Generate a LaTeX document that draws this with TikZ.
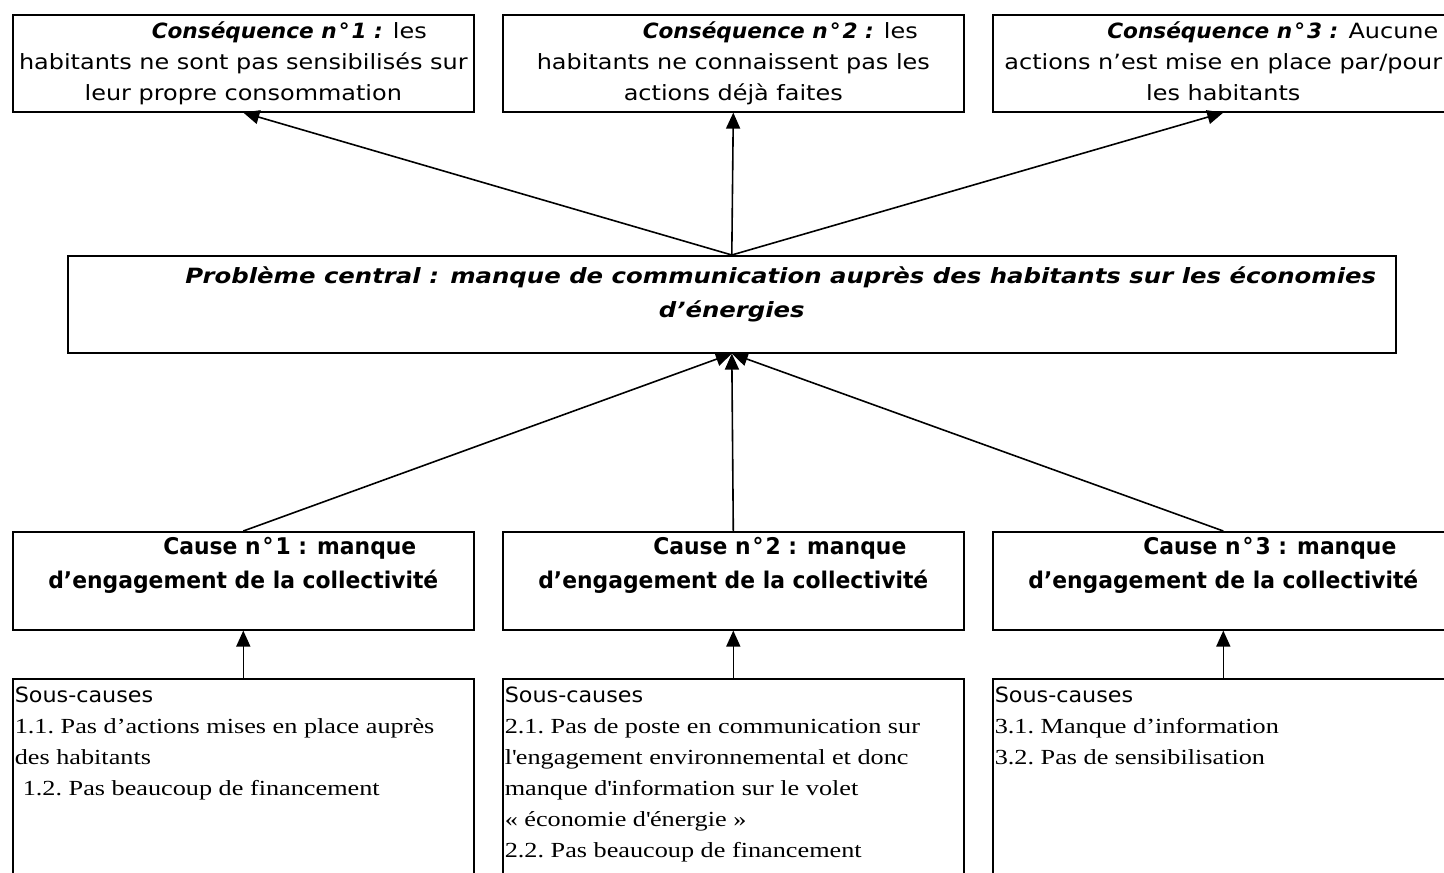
\documentclass[tikz,border=0pt]{standalone}
\usepackage{fontspec}
\setmainfont{Liberation Serif}[FakeStretch=1.22]
\newfontfamily\sansA{DejaVu Sans}[FakeStretch=1.14]
\newfontfamily\sansB{DejaVu Sans}[FakeStretch=0.95]
\newfontfamily\sansC{DejaVu Sans}[FakeStretch=1.16]
\newfontfamily\sansD{DejaVu Sans}[FakeStretch=1.06]
\newfontfamily\sansE{DejaVu Sans}[FakeStretch=1.03]
\usetikzlibrary{arrows.meta}

\newcommand{\consfont}{\sansA\fontsize{21}{31}\selectfont}
\newcommand{\conshead}[1]{{\sansE\bfseries\itshape Conséquence n\kern2pt°\kern2pt#1 :}}
\newcommand{\causefont}{\sansB\bfseries\fontsize{23}{34}\selectfont}
\newcommand{\cenfont}{\sansC\bfseries\itshape\fontsize{21}{34}\selectfont}
\newcommand{\sousfont}{\sansD\fontsize{21}{31}\selectfont}
\newcommand{\serfont}{\fontsize{21.5}{31}\selectfont\frenchspacing}
\newcommand{\inbox}[3]{\parbox[c][#2][t]{#1}{#3}}

\tikzstyle{box}=[draw, line width=1.6pt, inner sep=0pt, anchor=north west]
\tikzstyle{edge}=[draw, line width=1.6pt, -{Triangle[length=16pt,width=14pt]}]

\begin{document}
\begin{tikzpicture}[x=1pt, y=-1pt]

    \useasboundingbox (0,0) rectangle (1444,873);
    \clip (0,0) rectangle (1444,873);

    % consequences
    \node[box] (cons1) at (12,14) {\inbox{461pt}{97pt}{\centering\consfont\rule{0pt}{24pt}\hspace*{92pt}\conshead{1} les\\ habitants ne sont pas sensibilisés sur\\ leur propre consommation}};
    \node[box] (cons2) at (502,14) {\inbox{461pt}{97pt}{\centering\consfont\rule{0pt}{24pt}\hspace*{94pt}\conshead{2} les\\ habitants ne connaissent pas les\\ actions déjà faites}};
    \node[box] (cons3) at (992,14) {\inbox{461pt}{97pt}{\centering\consfont\rule{0pt}{24pt}\hspace*{99pt}\conshead{3} Aucune\\ actions n’est mise en place par/pour\\ les habitants}};

    % central problem
    \node[box] (cen) at (67,255) {\inbox{1328pt}{97pt}{\centering\cenfont\rule{0pt}{28pt}\hspace*{98pt}Problème central : manque de communication auprès des habitants sur les économies\\ d’énergies}};

    % causes
    \foreach \x/\col in {12/1, 502/2, 992/3}
        \node[box] (cause\col) at (\x,531) {\inbox{461pt}{98pt}{\centering\causefont\rule{0pt}{23pt}\hspace*{93pt}Cause n\kern2pt°\kern2pt\col{} : manque\\ d’engagement de la collectivité}};

    % sub-causes
    \node[box] (sous1) at (12,678) {\inbox{461pt}{230pt}{\raggedright\setlength{\leftskip}{2pt}\serfont\rule{0pt}{24pt}{\sousfont Sous-causes}\\ 1.1. Pas d’actions mises en place auprès\\ des habitants\\ \hspace*{8pt}1.2. Pas beaucoup de financement}};
    \node[box] (sous2) at (502,678) {\inbox{461pt}{230pt}{\raggedright\setlength{\leftskip}{2pt}\serfont\rule{0pt}{24pt}{\sousfont Sous-causes}\\ 2.1. Pas de poste en communication sur\\ l\textquotesingle engagement environnemental et donc\\ manque d\textquotesingle information sur le volet\\ « économie d\textquotesingle énergie »\\ 2.2. Pas beaucoup de financement}};
    \node[box] (sous3) at (992,678) {\inbox{461pt}{230pt}{\raggedright\setlength{\leftskip}{2pt}\serfont\rule{0pt}{24pt}{\sousfont Sous-causes}\\ 3.1. Manque d’information\\ 3.2. Pas de sensibilisation}};

    \foreach \col in {1,2,3} {
        \path[edge] (cen.north) -- (cons\col.south);
        \path[edge] (cause\col.north) -- (cen.south);
        \path[edge] (sous\col.north) -- (cause\col.south);
    }

\end{tikzpicture}
\end{document}
